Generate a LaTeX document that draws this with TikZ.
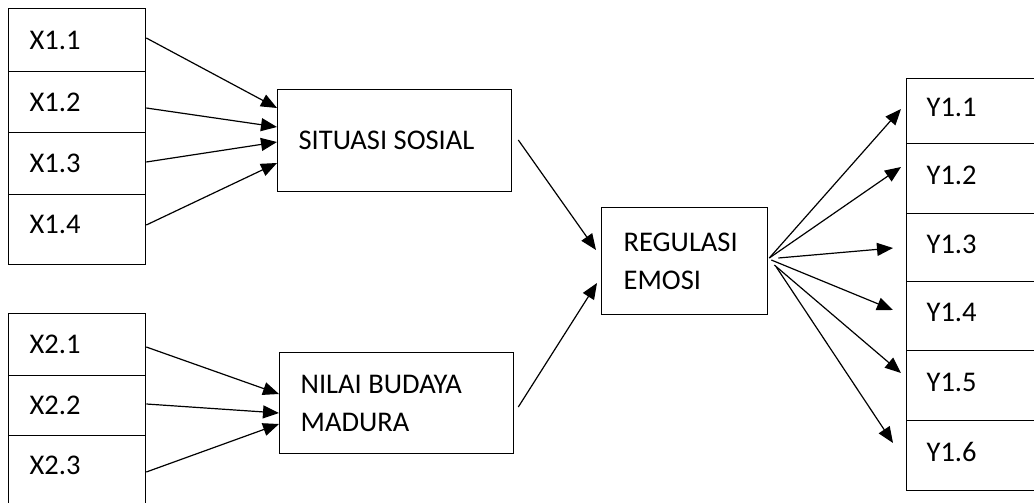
\documentclass[tikz,border=0pt]{standalone}
\usepackage{fontspec}
\setmainfont{Carlito}
\usetikzlibrary{arrows.meta,calc}
\begin{document}
\begin{tikzpicture}[x=1pt,y=-1pt,
  cell/.style={draw, line width=1.3pt, rectangle, anchor=north west, inner xsep=21pt, inner ysep=0pt,
    align=flush left, font=\fontsize{28.5}{38}\selectfont},
  ycell/.style={cell, inner xsep=20pt, text width=114pt, text depth=7pt},
  arr/.style={line width=1.2pt, -{Triangle[length=16pt,width=13pt]}}]
\useasboundingbox (0,0) rectangle (1034,503);
\clip (0,0) rectangle (1034,503);
% X1 indicators
\node[cell, text width=95pt, minimum height=63pt] (x11) at (8,8) {X1.1};
\node[cell, text width=95pt, minimum height=61pt] (x12) at (8,71) {X1.2};
\node[cell, text width=95pt, minimum height=62pt] (x13) at (8,132) {X1.3};
\node[cell, text width=95pt, minimum height=70pt, text depth=10pt] (x14) at (8,194) {X1.4};
% X2 indicators
\node[cell, text width=95pt, minimum height=62pt] (x21) at (8,313) {X2.1};
\node[cell, text width=95pt, minimum height=60pt] (x22) at (8,375) {X2.2};
\node[cell, text width=95pt, minimum height=110pt, text depth=50pt] (x23) at (8,435) {X2.3};
% constructs
\node[cell, text width=192pt, minimum height=102pt] (ss) at (277,89) {SITUASI SOSIAL};
\node[cell, text width=192pt, minimum height=101pt] (nb) at (279,352) {NILAI BUDAYA\\MADURA};
\node[cell, inner xsep=22pt, text width=122pt, minimum height=107pt] (re) at (601,207) {REGULASI\\EMOSI};
% Y indicators
\node[ycell, minimum height=65pt] (y11) at (906,78) {Y1.1};
\node[ycell, minimum height=70pt] (y12) at (906,143) {Y1.2};
\node[ycell, minimum height=68pt] (y13) at (906,213) {Y1.3};
\node[ycell, minimum height=69pt] (y14) at (906,281) {Y1.4};
\node[ycell, minimum height=70pt] (y15) at (906,350) {Y1.5};
\node[ycell, minimum height=70pt] (y16) at (906,420) {Y1.6};
% arrows X1 -> SS
\draw[arr] ($(x11.north east)+(0,30)$) -- ($(ss.north west)+(0,19)$);
\draw[arr] ($(x12.north east)+(0,37)$) -- ($(ss.north west)+(0,38)$);
\draw[arr] ($(x13.north east)+(0,30)$) -- ($(ss.north west)+(0,53)$);
\draw[arr] ($(x14.north east)+(0,31)$) -- ($(ss.north west)+(0,74)$);
% arrows X2 -> NB
\draw[arr] ($(x21.north east)+(0,34)$) -- ($(nb.north west)+(0,42)$);
\draw[arr] ($(x22.north east)+(0,29)$) -- ($(nb.north west)+(0,61)$);
\draw[arr] ($(x23.north east)+(0,37)$) -- ($(nb.north west)+(0,72)$);
% constructs -> RE
\draw[arr] ($(ss.north east)+(6,51)$) -- ($(re.north west)+(-5,43)$);
\draw[arr] ($(nb.north east)+(4,55)$) -- ($(re.north west)+(-4,76)$);
% RE -> Y
\draw[arr] ($(re.north east)+(1,51)$) -- ($(y11.north west)+(-5,31)$);
\draw[arr] ($(re.north east)+(1,51)$) -- ($(y12.north west)+(-5,24)$);
\draw[arr] ($(re.north east)+(10,51)$) -- ($(y13.north west)+(-13,35)$);
\draw[arr] ($(re.north east)+(3,53)$) -- ($(y14.north west)+(-13,29)$);
\draw[arr] ($(re.north east)+(6,58)$) -- ($(y15.north west)+(-5,23)$);
\draw[arr] ($(re.north east)+(8,60)$) -- ($(y16.north west)+(-13,23)$);
\end{tikzpicture}
\end{document}
